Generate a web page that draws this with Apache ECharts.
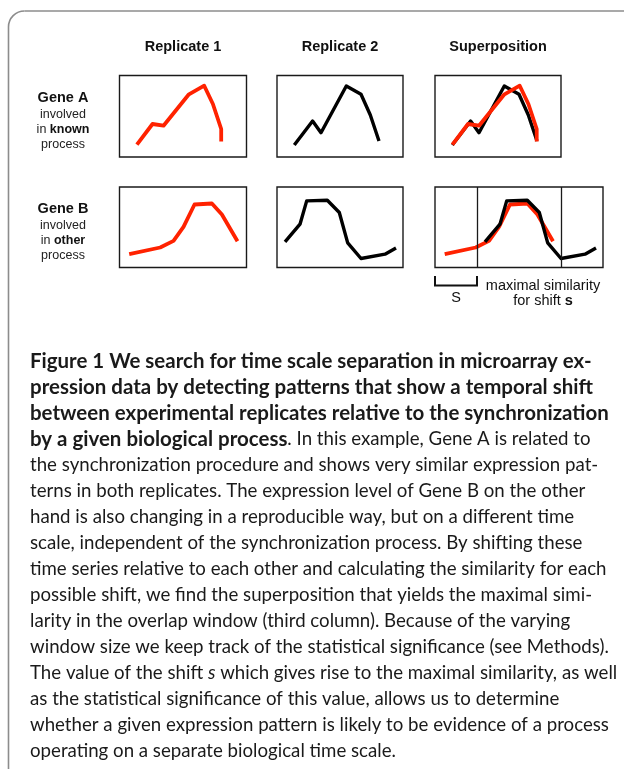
<!DOCTYPE html>
<html><head><meta charset="utf-8">
<script src="https://cdn.jsdelivr.net/npm/echarts@6/dist/echarts.min.js"></script>
<style>html,body{margin:0;padding:0;background:#fff;}#c{width:624px;height:775px;}</style>
</head><body><div id="c"></div>
<script>
// ---------- data ----------
const columnTitles = ['Replicate 1', 'Replicate 2', 'Superposition'];
const geneA_rep1_x = [17.4, 33, 44, 69, 84.7, 93.4, 101.7, 101.7];
const geneA_rep1_y = [12.3, 33, 31.3, 62.3, 71.3, 53, 28, 15.6];
const geneA_rep2_x = [17.3, 35.6, 44, 69.3, 84, 93.3, 102];
const geneA_rep2_y = [12, 36, 24.3, 71, 62.7, 42, 16];
const geneB_rep1_x = [9.7, 40.7, 54, 64, 75, 92.4, 102.4, 118];
const geneB_rep1_y = [13.3, 20, 26.6, 40.6, 63, 64, 53, 26.3];
const geneB_rep2_x = [8, 23, 29.7, 50.3, 62.3, 70.7, 84, 108, 119];
const geneB_rep2_y = [25.6, 43.3, 66.6, 67.3, 55, 24.6, 9, 13.3, 19.6];
const shiftGeneA = 0;
const shiftGeneB = 42;
const windowLength = 126;
const captionLines = [
  [['b', 'Figure 1 We search for time scale separation in microarray ex-']],
  [['b', 'pression data by detecting patterns that show a temporal shift']],
  [['b', 'between experimental replicates relative to the synchronization']],
  [['b', 'by a given biological process'], ['r', '. In this example, Gene A is related to']],
  [['r', 'the synchronization procedure and shows very similar expression pat-']],
  [['r', 'terns in both replicates. The expression level of Gene B on the other']],
  [['r', 'hand is also changing in a reproducible way, but on a different time']],
  [['r', 'scale, independent of the synchronization process. By shifting these']],
  [['r', 'time series relative to each other and calculating the similarity for each']],
  [['r', 'possible shift, we find the superposition that yields the maximal simi-']],
  [['r', 'larity in the overlap window (third column). Because of the varying']],
  [['r', 'window size we keep track of the statistical significance (see Methods).']],
  [['r', 'The value of the shift '], ['i', 's'], ['r', ' which gives rise to the maximal similarity, as well']],
  [['r', 'as the statistical significance of this value, allows us to determine']],
  [['r', 'whether a given expression pattern is likely to be evidence of a process']],
  [['r', 'operating on a separate biological time scale.']]
];

// ---------- helpers ----------
const zip = (xs, ys, dx) => xs.map((x, i) => [x + (dx || 0), ys[i]]);
const RED = '#ff2200', BLACK = '#000000';
const LAB = '"Liberation Sans", Arial, Helvetica, sans-serif';
const CAP = 'Lato, "Open Sans", sans-serif';

const grids = [
  { left: 119.5, top: 75.5, width: 127, height: 81.5 },
  { left: 277, top: 75.5, width: 126, height: 81.5 },
  { left: 435, top: 75.5, width: 126, height: 81.5 },
  { left: 119.5, top: 187, width: 127, height: 80.5 },
  { left: 277, top: 187, width: 126, height: 80.5 },
  { left: 435, top: 187, width: windowLength + shiftGeneB, height: 80.5 }
].map(g => Object.assign({ show: true, borderColor: '#1a1a1a', borderWidth: 1.4, backgroundColor: 'transparent', containLabel: false }, g));

const xMax = [127, 126, 126, 127, 126, windowLength + shiftGeneB];
const yMax = [81.5, 81.5, 81.5, 80.5, 80.5, 80.5];
const xAxis = xMax.map((m, i) => ({ type: 'value', gridIndex: i, min: 0, max: m, show: false }));
const yAxis = yMax.map((m, i) => ({ type: 'value', gridIndex: i, min: 0, max: m, show: false }));

function line(idx, data, color, width, z) {
  return {
    type: 'line', xAxisIndex: idx, yAxisIndex: idx, data, symbol: 'none', showSymbol: false,
    lineStyle: { color, width, join: 'round', cap: 'butt' }, z, silent: true
  };
}
const series = [
  line(0, zip(geneA_rep1_x, geneA_rep1_y), RED, 3.8, 3),
  line(1, zip(geneA_rep2_x, geneA_rep2_y), BLACK, 3.4, 3),
  line(2, zip(geneA_rep2_x, geneA_rep2_y, shiftGeneA), BLACK, 3.4, 2),
  line(2, zip(geneA_rep1_x, geneA_rep1_y), RED, 3.8, 3),
  line(3, zip(geneB_rep1_x, geneB_rep1_y), RED, 3.8, 3),
  line(4, zip(geneB_rep2_x, geneB_rep2_y), BLACK, 3.4, 3),
  line(5, zip(geneB_rep1_x, geneB_rep1_y), RED, 3.8, 2),
  Object.assign(line(5, zip(geneB_rep2_x, geneB_rep2_y, shiftGeneB), BLACK, 3.4, 3), {
    markLine: {
      silent: true, symbol: 'none', label: { show: false },
      lineStyle: { color: '#1a1a1a', width: 1.3, type: 'solid' },
      data: [{ xAxis: shiftGeneB }, { xAxis: windowLength }]
    }
  })
];

// ---------- caption font fitting ----------
const ctx = document.createElement('canvas').getContext('2d');
function mw(font, s) { ctx.font = font; return ctx.measureText(s).width; }
const regSize = 100 * 577 / mw('100px ' + CAP, captionLines[8][0][1]);
const boldSize = 100 * 579 / mw('bold 100px ' + CAP, captionLines[2][0][1]);

const graphic = [];
// frame
const FR = 16, FX = 8.5, FY = 11;
graphic.push({ type: 'line', shape: { x1: FX, y1: FY + FR, x2: FX, y2: 769 }, style: { stroke: '#8c8c8c', lineWidth: 1.6 } });
graphic.push({ type: 'line', shape: { x1: FX + FR, y1: FY, x2: 624, y2: FY }, style: { stroke: '#8c8c8c', lineWidth: 1.6 } });
graphic.push({ type: 'arc', shape: { cx: FX + FR, cy: FY + FR, r: FR, startAngle: Math.PI, endAngle: Math.PI * 1.5, clockwise: true }, style: { stroke: '#8c8c8c', lineWidth: 1.6, fill: 'none' } });

// column titles
const titleX = [183, 340, 498];
columnTitles.forEach((t, i) => graphic.push({
  type: 'text', style: { text: t, x: titleX[i], y: 47, align: 'center', verticalAlign: 'middle', font: 'bold 14.5px ' + LAB, fill: '#111' }
}));

// row labels
function rowLabel(name, word, ys) {
  const rich = {
    b: { fontWeight: 'bold', fontSize: 12.5, fontFamily: LAB, fill: '#111' },
    r: { fontSize: 12.5, fontFamily: LAB, fill: '#222' }
  };
  graphic.push({ type: 'text', style: { text: name, x: 63, y: ys[0], align: 'center', verticalAlign: 'middle', font: 'bold 14.5px ' + LAB, fill: '#111' } });
  graphic.push({ type: 'text', style: { text: '{r|involved}', rich, x: 63, y: ys[1], align: 'center', verticalAlign: 'middle' } });
  graphic.push({ type: 'text', style: { text: '{r|in }{b|' + word + '}', rich, x: 63, y: ys[2], align: 'center', verticalAlign: 'middle' } });
  graphic.push({ type: 'text', style: { text: '{r|process}', rich, x: 63, y: ys[3], align: 'center', verticalAlign: 'middle' } });
}
rowLabel('Gene A', 'known', [98, 115, 130, 145]);
rowLabel('Gene B', 'other', [208.5, 226, 241, 256]);

// shift annotation text
graphic.push({ type: 'text', style: { text: 'maximal similarity', x: 543, y: 286, align: 'center', verticalAlign: 'middle', font: '14.5px ' + LAB, fill: '#111' } });
graphic.push({
  type: 'text', style: {
    text: '{r|for shift }{b|s}', x: 543, y: 301, align: 'center', verticalAlign: 'middle',
    rich: { r: { fontSize: 14.5, fontFamily: LAB, fill: '#111' }, b: { fontSize: 14.5, fontWeight: 'bold', fontFamily: LAB, fill: '#111' } }
  }
});

// caption
const capRich = {
  b: { fontWeight: 'bold', fontSize: boldSize, fontFamily: CAP, fill: '#1a1a1a' },
  r: { fontSize: regSize, fontFamily: CAP, fill: '#1a1a1a' },
  i: { fontStyle: 'italic', fontSize: regSize, fontFamily: CAP, fill: '#1a1a1a' }
};
const firstMid = 361, lastMid = 751;
const step = (lastMid - firstMid) / (captionLines.length - 1);
captionLines.forEach((segs, k) => {
  const txt = segs.map(s => '{' + s[0] + '|' + s[1] + '}').join('');
  graphic.push({ type: 'text', style: { text: txt, rich: capRich, x: 30, y: firstMid + k * step, align: 'left', verticalAlign: 'middle' } });
});

const chart = echarts.init(document.getElementById('c'), null, { renderer: 'canvas' });
chart.setOption({ animation: false, backgroundColor: '#fff', grid: grids, xAxis, yAxis, series, graphic });

// bracket for the shift s, positioned through grid 5's scale
const p0 = chart.convertToPixel({ gridIndex: 5 }, [0, 0]);
const p1 = chart.convertToPixel({ gridIndex: 5 }, [shiftGeneB, 0]);
graphic.push({ type: 'polyline', shape: { points: [[p0[0], 276], [p0[0], 285.5], [p1[0], 285.5], [p1[0], 276]] }, style: { stroke: '#111', lineWidth: 2, fill: null } });
graphic.push({ type: 'text', style: { text: 'S', x: (p0[0] + p1[0]) / 2, y: 298, align: 'center', verticalAlign: 'middle', font: '14.5px ' + LAB, fill: '#111' } });
chart.setOption({ graphic }, { replaceMerge: ['graphic'] });
</script></body></html>
